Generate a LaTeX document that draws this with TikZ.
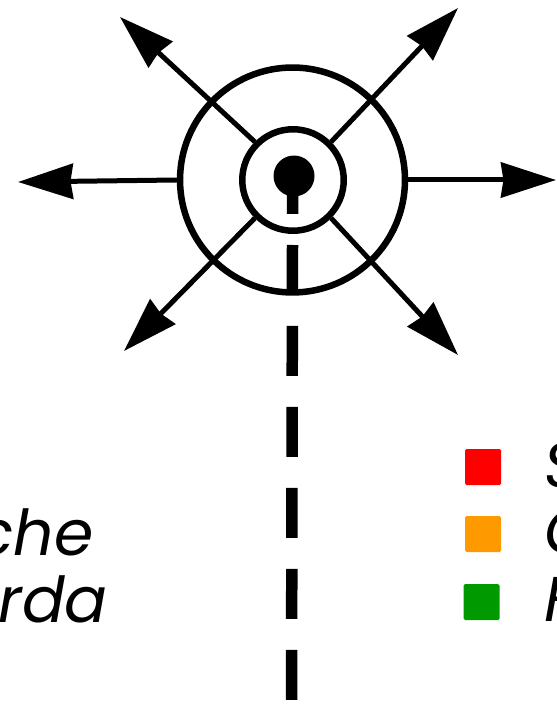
\documentclass[tikz,border=0pt]{standalone}
\usepackage{fontspec}
\setmainfont{Poppins}
\usetikzlibrary{arrows.meta}
\begin{document}
\begin{tikzpicture}[
    x=0.02cm, y=-0.02cm,
    ring/.style={circle, draw=black, line width=0.13cm, inner sep=0pt},
    ray/.style={line width=0.1cm, -{Stealth[length=1.1cm, width=0.7cm, inset=0.05cm]}},
    legendbox/.style={rounded corners=0.03cm, minimum size=0.72cm, inner sep=0pt},
    legendtext/.style={font=\fontsize{36pt}{36pt}\selectfont\itshape, text=black, inner sep=0pt}
]

% Colors
\definecolor{legendred}{RGB}{255,0,0}
\definecolor{legendorange}{RGB}{255,153,0}
\definecolor{legendgreen}{RGB}{0,153,0}

\useasboundingbox (0,0) rectangle (556,705);
\clip (0,0) rectangle (556,705);

% Circles
\node[ring, minimum size=4.5cm] (outer) at (292.5,180) {};
\node[ring, minimum size=2.03cm] (inner) at (293,180) {};
\node[circle, fill=black, minimum size=0.82cm, inner sep=0pt] (dot) at (294,176) {};

% Stem and dashed line
\coordinate (stemend) at (292.5,214);
\coordinate (dashtop) at (292.5,245);
\coordinate (dashend) at (291.5,701);
\draw[line width=0.23cm] (dot.center) ++(-1.5,0) -- (stemend);
\draw[line width=0.23cm, dash pattern=on 1cm off 0.62cm] (dashtop) -- (dashend);

% Arrows
\coordinate (tipw) at (18,182);
\coordinate (tipe) at (556,180);
\coordinate (tipnw) at (120,17);
\coordinate (tipne) at (458,8);
\coordinate (tipsw) at (124,351);
\coordinate (tipse) at (458,355);
\draw[ray] (outer.west) -- (tipw);
\draw[ray] (outer.east) -- (tipe);
\draw[ray] (inner.135) -- (tipnw);
\draw[ray] (inner.45) -- (tipne);
\draw[ray] (inner.225) -- (tipsw);
\draw[ray] (inner.315) -- (tipse);

% Legend
\node[legendbox, fill=legendred] (red) at (483,467) {};
\node[legendbox, fill=legendorange] (orange) at (483,534) {};
\node[legendbox, fill=legendgreen] (green) at (481.5,602) {};
\node[legendtext, anchor=base west] (redtext) at (544,487) {S};
\node[legendtext, anchor=base west] (orangetext) at (544,553) {C};
\node[legendtext, anchor=base west] (greentext) at (544,621) {F};

% Clipped words
\node[legendtext, anchor=base east] (che) at (94,555) {che};
\node[legendtext, anchor=base east] (erda) at (108,622) {erda};

\end{tikzpicture}
\end{document}
